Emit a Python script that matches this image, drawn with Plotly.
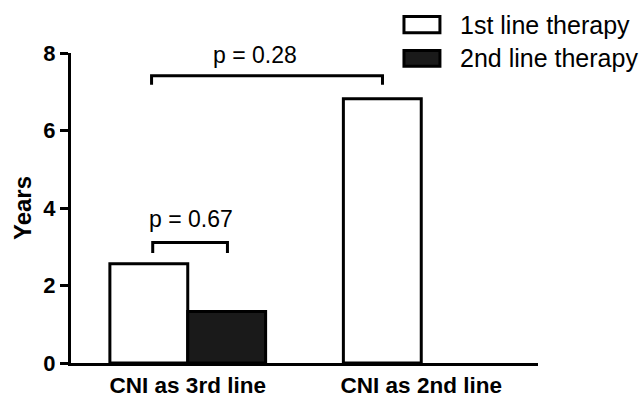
import plotly.graph_objects as go

categories = ["CNI as 3rd line", "CNI as 2nd line"]
series_names = ["1st line therapy", "2nd line therapy"]
first_line = [2.56, 6.82]
second_line = [1.33, None]
y_ticks = [0, 2, 4, 6, 8]

# significance brackets: (x_left, x_right, y_top, y_tip, label, label_x, label_y)
brackets = [
    (-0.15, 0.17, 3.11, 2.84, "p = 0.67", 0.013, 3.72),
    (-0.155, 0.834, 7.41, 7.18, "p = 0.28", 0.29, 7.95),
]

FONT = "Liberation Sans, Arial, Helvetica, sans-serif"

fig = go.Figure()
fig.add_trace(go.Bar(x=categories, y=first_line, name=series_names[0],
                     marker=dict(color="white", line=dict(color="black", width=3)),
                     showlegend=False))
fig.add_trace(go.Bar(x=categories, y=second_line, name=series_names[1],
                     marker=dict(color="#1a1a1a", line=dict(color="black", width=3)),
                     showlegend=False))

shapes = []
annotations = []
for xl, xr, yt, yb, lab, lx, ly in brackets:
    shapes.append(dict(type="path", xref="x", yref="y",
                       path=f"M {xl},{yb} L {xl},{yt} L {xr},{yt} L {xr},{yb}",
                       line=dict(color="black", width=3)))
    annotations.append(dict(x=lx, y=ly, xref="x", yref="y", text=lab, showarrow=False,
                            font=dict(family=FONT, size=23, color="black"),
                            xanchor="center", yanchor="middle"))

# manual legend
legend_fills = ["white", "#1a1a1a"]
legend_y = [(1.065, 1.118), (0.957, 1.008)]
for name, fill, (y0, y1) in zip(series_names, legend_fills, legend_y):
    shapes.append(dict(type="rect", xref="paper", yref="paper", x0=0.713, x1=0.790,
                       y0=y0, y1=y1, fillcolor=fill, line=dict(color="black", width=3)))
    annotations.append(dict(x=0.829, y=(y0 + y1) / 2, xref="paper", yref="paper",
                            text=name, showarrow=False, xanchor="left", yanchor="middle",
                            font=dict(family=FONT, size=25, color="black")))

fig.update_layout(
    width=640, height=398,
    margin=dict(l=71, r=102, t=53, b=35),
    paper_bgcolor="white", plot_bgcolor="white",
    barmode="group", bargap=0.333, bargroupgap=0,
    shapes=shapes, annotations=annotations,
    font=dict(family=FONT, color="black"),
    showlegend=False,
)
fig.update_xaxes(range=[-0.5, 1.5], showline=True, linecolor="black", linewidth=3,
                 ticks="", showgrid=False, zeroline=False, automargin=False,
                 ticklabelstandoff=0,
                 tickfont=dict(family=FONT, size=22.5, color="black", weight="bold"))
fig.update_yaxes(range=[0, 8], tickvals=y_ticks, showline=True, linecolor="black",
                 linewidth=3, ticks="outside", ticklen=8, tickwidth=3, tickcolor="black",
                 showgrid=False, zeroline=False, automargin=False,
                 tickfont=dict(family=FONT, size=22, color="black", weight="bold"),
                 title=dict(text="Years", standoff=5,
                            font=dict(family=FONT, size=24, color="black", weight="bold")))

fig.write_html("out.html", config={"displayModeBar": False},
               post_script="document.body.style.margin='0';")
